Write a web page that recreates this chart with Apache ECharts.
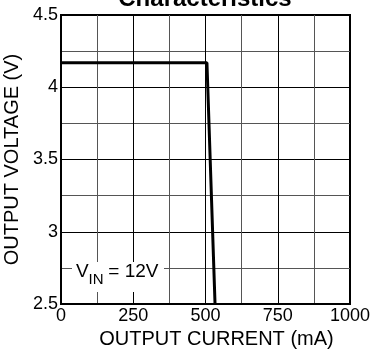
<!DOCTYPE html>
<html><head><meta charset="utf-8">
<script src="https://cdn.jsdelivr.net/npm/echarts@6/dist/echarts.min.js"></script>
<style>html,body{margin:0;padding:0;background:#fff}#c{width:373px;height:352px}</style>
</head><body><div id="c"></div>
<script>
const titleText = 'Characteristics';
const xName = 'OUTPUT CURRENT (mA)';
const yName = 'OUTPUT VOLTAGE (V)';
const currentMA = [0, 505, 533];
const voltageV = [4.17, 4.17, 2.5];
const xRange = [0, 1000];
const yRange = [2.5, 4.5];
const FONT = '"Liberation Sans", Arial, sans-serif';

const chart = echarts.init(document.getElementById('c'), null, {renderer: 'canvas'});
chart.setOption({
  animation: false,
  backgroundColor: '#fff',
  title: {
    text: titleText, left: 205, top: -13, textAlign: 'center', padding: 0,
    textStyle: {fontFamily: FONT, fontSize: 24, fontWeight: 'bold', color: '#000'}
  },
  grid: {left: 61, right: 23, top: 15, bottom: 48, show: true, borderColor: '#000', borderWidth: 2, containLabel: false, outerBoundsMode: 'none'},
  xAxis: {
    type: 'value', min: xRange[0], max: xRange[1], interval: 250,
    name: xName, nameLocation: 'middle', nameGap: 17,
    nameTextStyle: {fontFamily: FONT, fontSize: 20, color: '#000', padding: [0, 0, 0, 22]},
    axisLine: {show: true, lineStyle: {color: '#000', width: 2}},
    axisTick: {show: false},
    axisLabel: {fontFamily: FONT, fontSize: 18, color: '#000', margin: 3, formatter: v => String(v)},
    splitLine: {show: true, lineStyle: {color: '#000', width: 1}},
    minorTick: {show: false, splitNumber: 2},
    minorSplitLine: {show: true, lineStyle: {color: '#555', width: 1}}
  },
  yAxis: {
    type: 'value', min: yRange[0], max: yRange[1], interval: 0.5,
    name: yName, nameLocation: 'middle', nameGap: 18,
    nameTextStyle: {fontFamily: FONT, fontSize: 20, color: '#000'},
    axisLine: {show: true, lineStyle: {color: '#000', width: 2}},
    axisTick: {show: false},
    axisLabel: {fontFamily: FONT, fontSize: 18, color: '#000', margin: 3, formatter: v => String(v)},
    splitLine: {show: true, lineStyle: {color: '#000', width: 1}},
    minorTick: {show: false, splitNumber: 2},
    minorSplitLine: {show: true, lineStyle: {color: '#555', width: 1}}
  },
  series: [{
    type: 'line', symbol: 'none',
    data: currentMA.map((x, i) => [x, voltageV[i]]),
    lineStyle: {color: '#000', width: 3}
  }],
  graphic: [
    {type: 'rect', shape: {x: 72, y: 262, width: 92, height: 30}, style: {fill: '#fff'}, z: 10},
    {type: 'text', x: 76, y: 272, z: 11, style: {text: 'V', fill: '#000', font: '19px "Liberation Sans", Arial, sans-serif', verticalAlign: 'middle', align: 'left'}},
    {type: 'text', x: 88.5, y: 279.5, z: 11, style: {text: 'IN', fill: '#000', font: '15px "Liberation Sans", Arial, sans-serif', verticalAlign: 'middle', align: 'left'}},
    {type: 'text', x: 103, y: 272, z: 11, style: {text: ' = 12V', fill: '#000', font: '19px "Liberation Sans", Arial, sans-serif', verticalAlign: 'middle', align: 'left'}}
  ]
});
</script></body></html>
